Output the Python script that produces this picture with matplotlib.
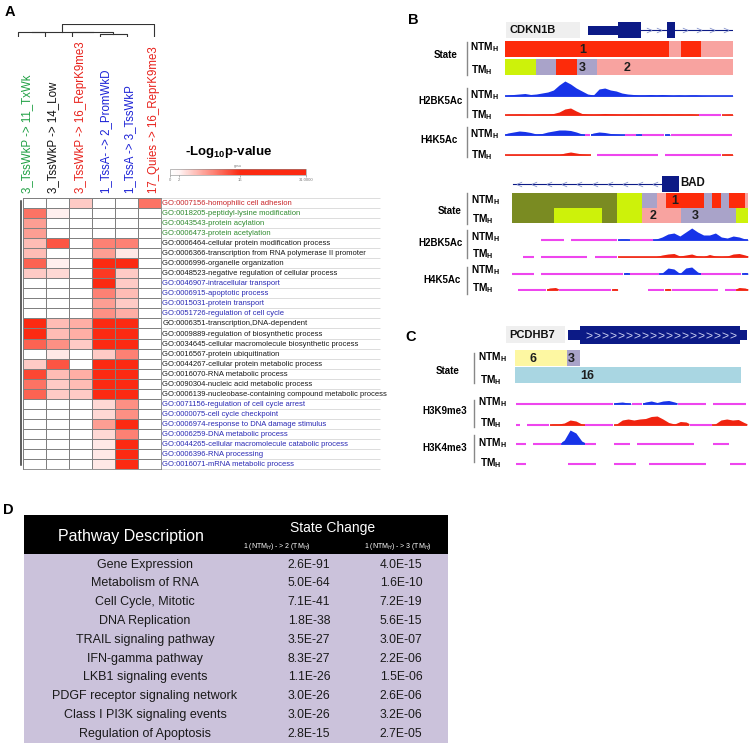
import numpy as np
import matplotlib
matplotlib.use('Agg')
import matplotlib.pyplot as plt
from matplotlib.colors import LinearSegmentedColormap, Normalize
from matplotlib.cm import ScalarMappable
from matplotlib.patches import Rectangle

plt.rcParams['font.family'] = ['Liberation Sans', 'DejaVu Sans']
plt.rcParams['mathtext.fontset'] = 'custom'
plt.rcParams['mathtext.rm'] = 'Liberation Sans'
plt.rcParams['mathtext.bf'] = 'Liberation Sans:bold'
plt.rcParams['mathtext.it'] = 'Liberation Sans:italic'

# ---------------------------------------------------------------- data: panel A
go_terms = [
    "GO:0007156-homophilic cell adhesion",
    "GO:0018205-peptidyl-lysine modification",
    "GO:0043543-protein acylation",
    "GO:0006473-protein acetylation",
    "GO:0006464-cellular protein modification process",
    "GO:0006366-transcription from RNA polymerase II promoter",
    "GO:0006996-organelle organization",
    "GO:0048523-negative regulation of cellular process",
    "GO:0046907-intracellular transport",
    "GO:0006915-apoptotic process",
    "GO:0015031-protein transport",
    "GO:0051726-regulation of cell cycle",
    "GO:0006351-transcription,DNA-dependent",
    "GO:0009889-regulation of biosynthetic process",
    "GO:0034645-cellular macromolecule biosynthetic process",
    "GO:0016567-protein ubiquitination",
    "GO:0044267-cellular protein metabolic process",
    "GO:0016070-RNA metabolic process",
    "GO:0090304-nucleic acid metabolic process",
    "GO:0006139-nucleobase-containing compound metabolic process",
    "GO:0071156-regulation of cell cycle arrest",
    "GO:0000075-cell cycle checkpoint",
    "GO:0006974-response to DNA damage stimulus",
    "GO:0006259-DNA metabolic process",
    "GO:0044265-cellular macromolecule catabolic process",
    "GO:0006396-RNA processing",
    "GO:0016071-mRNA metabolic process",
]
go_groups = ['r', 'g', 'g', 'g', 'k', 'k', 'k', 'k', 'b', 'b', 'b', 'b',
             'k', 'k', 'k', 'k', 'k', 'k', 'k', 'k', 'b', 'b', 'b', 'b', 'b', 'b', 'b']
col_labels = ["3_TssWkP -> 11_TxWk", "3_TssWkP -> 14_Low", "3_TssWkP -> 16_ReprK9me3",
              "1_TssA- -> 2_PromWkD", "1_TssA -> 3_TssWkP", "17_Quies -> 16_ReprK9me3"]
col_groups = ['g', 'k', 'r', 'b', 'b', 'r']
neglog_p = np.array([
    [0, 0, 5, 0, 0, 11],
    [11, 2.5, 0, 0, 0, 0],
    [8, 0, 0, 0, 0, 0],
    [8, 0, 0, 0, 0, 0],
    [6, 13, 0, 10, 10, 0],
    [6, 0, 0, 8, 3, 0],
    [12, 2.5, 0, 17, 17, 0],
    [5, 4, 0, 15, 5, 0],
    [0, 0, 0, 19, 5, 0],
    [0, 0, 0, 10, 6, 0],
    [0, 0, 0, 8, 5, 0],
    [0, 0, 0, 9, 7, 0],
    [20, 6, 7, 25, 25, 0],
    [20, 6, 7, 25, 25, 0],
    [12, 9, 5, 25, 25, 0],
    [0, 3, 0, 5, 10, 0],
    [5, 13, 0, 25, 25, 0],
    [14, 6, 7, 25, 25, 0],
    [11, 5, 6, 25, 25, 0],
    [12, 5, 5, 25, 25, 0],
    [0, 0, 0, 4, 9, 0],
    [0, 0, 0, 4, 9, 0],
    [0, 0, 0, 8, 18, 0],
    [0, 0, 0, 4, 10, 0],
    [0, 0, 0, 3, 19, 0],
    [0, 0, 0, 3, 19, 0],
    [0, 0, 0, 3, 19, 0],
])
cbar_ticks = [0, 2, 16, 31]
cbar_ticklabels = ['0', '2', '16', '31.0000']
# column dendrogram merges: (left node, right node, height); leaves 0..5
col_linkage = [(0, 1, 0.35), (3, 4, 0.22), (2, 7, 0.36), (6, 8, 0.4), (9, 5, 1.0)]

# ---------------------------------------------------------------- data: panels B, C
state_colors = {1: '#fd2b0a', 2: '#f8a3a0', 3: '#a9a3c9', 6: '#fdf7a2',
                11: '#cdf20a', 10: '#7a8b22', 16: '#a9d6e2'}

cdkn1b_ntm_breaks = [0, 72, 77, 86, 100]
cdkn1b_ntm_states = [1, 2, 1, 2]
cdkn1b_tm_breaks = [0, 13.5, 22.5, 31.5, 40.5, 100]
cdkn1b_tm_states = [11, 3, 1, 3, 2]
cdkn1b_state_text = [(0, 34, '1'), (1, 34, '3'), (1, 53.5, '2')]

bad_ntm_breaks = [0, 44.5, 55.1, 61.4, 65.3, 81.4, 84.7, 88.6, 91.9, 98.7, 100]
bad_ntm_states = [10, 11, 3, 2, 1, 3, 1, 3, 1, 2]
bad_tm_breaks = [0, 17.8, 38.1, 44.5, 55.1, 71.6, 94.9, 100]
bad_tm_states = [10, 11, 10, 11, 2, 3, 11]
bad_state_text = [(0, 69, '1'), (1, 59.7, '2'), (1, 77.5, '3')]

pcdhb7_ntm_breaks = [0, 22.9, 28.6]
pcdhb7_ntm_states = [6, 3]
pcdhb7_tm_breaks = [0, 99.6]
pcdhb7_tm_states = [16]
pcdhb7_state_text = [(0, 7.9, '6'), (0, 24.7, '3'), (1, 31.7, '16')]

# signal tracks: 40 bins each; mask: d = data, m = no-signal baseline, ' ' = gap
cdkn1b_h2b_ntm = [1, 1.5, 2, 2.5, 1.5, 2, 3, 4, 6, 11, 15, 12, 8, 5, 2, 1, 7, 8, 6, 5,
                  3, 2, 1.5, 1, 1, 1.5, 1, 1.5, 1, 0.5, 1, 0.5, 1, 1, 0.5, 0.3, 0.3, 0.3, 0.3, 0.3]
cdkn1b_h2b_ntm_mask = 'd' * 40
cdkn1b_h2b_tm = [0.8, 0.8, 1, 0.8, 0.6, 0.8, 1, 1, 1.5, 3, 6, 7, 4, 1.5, 1, 0.8, 1, 1.5, 1.2, 1,
                 0.8, 1, 0.8, 1, 0.8, 1, 0.8, 1, 1, 0.8, 1, 0.8, 1, 0.6, 0, 0, 0, 0, 0.5, 0.8]
cdkn1b_h2b_tm_mask = 'd' * 34 + 'mmmm' + 'dd'
cdkn1b_h4_ntm = [2, 3, 4, 3.5, 2.5, 1, 1.5, 3, 4, 5, 5, 4.5, 3, 1, 0, 2, 3, 2.5, 1.5, 1,
                 0.5, 0, 0, 1, 0, 0, 0, 0, 1, 0, 0, 0, 0, 0, 0, 0, 0, 0, 0, 0]
cdkn1b_h4_ntm_mask = 'd' * 14 + 'm' + 'd' * 6 + 'mm' + 'd' + 'mmmm' + 'd' + 'm' * 11
cdkn1b_h4_tm = [0.5] * 10 + [2, 3, 2, 1, 0.5] + [0] * 23 + [0.8, 0.8]
cdkn1b_h4_tm_mask = 'd' * 15 + ' ' + 'm' * 11 + ' ' + 'm' * 10 + 'dd'

bad_h2b_ntm = [0] * 18 + [1, 1] + [0] * 4 + [1, 3, 6, 7, 4, 8, 12, 8, 5, 5, 7, 3, 2, 4, 3, 1]
bad_h2b_ntm_mask = ' ' * 5 + 'm' * 4 + ' ' + 'm' * 8 + 'dd' + 'mmmm' + 'd' * 16
bad_h2b_tm = [0] * 18 + [0.5] * 7 + [2, 3, 3.5, 1, 2, 3, 1, 0.5, 2.5, 1, 0.5, 1, 3, 3.5, 2]
bad_h2b_tm_mask = '  ' + 'mm' + ' ' + 'm' * 8 + ' ' + 'm' * 4 + 'd' * 22
bad_h4_ntm = [0] * 19 + [1.5] + [0] * 5 + [1, 6, 5, 0.5, 6, 7, 2] + [0] * 7 + [1.5]
bad_h4_ntm_mask = 'mmmm' + ' ' + 'm' * 14 + 'd' + 'm' * 5 + 'd' * 7 + 'm' * 7 + 'd'
bad_h4_tm = [0] * 6 + [2, 2.5] + [0] * 9 + [1.5] + [0] * 8 + [1.5] + [0] * 11 + [2.5, 2]
bad_h4_tm_mask = ' ' + 'm' * 5 + 'dd' + 'm' * 9 + 'd' + ' ' * 5 + 'mmm' + 'd' + 'm' * 8 + ' ' + 'mm' + 'dd'

pcdhb7_k9_ntm = [0] * 17 + [1.5, 2, 1] + [0, 0] + [2, 3, 1.5, 3, 3.5, 2] + [0] * 12
pcdhb7_k9_ntm_mask = 'm' * 17 + 'ddd' + 'mm' + 'd' * 6 + 'm' * 5 + ' ' + 'm' * 6
pcdhb7_k9_tm = [0] * 6 + [1, 1, 2, 5, 4, 1] + [0] * 5 + \
               [1, 5, 6, 5, 6, 6.5, 8.5, 9, 6, 2.5, 1, 3.5, 3] + [0] * 4 + [1, 5, 6, 5, 5.5, 2.5]
pcdhb7_k9_tm_mask = 'm' + ' ' + 'mmmm' + 'd' * 6 + 'm' * 5 + 'd' * 13 + 'mmmm' + 'd' * 6
pcdhb7_k4_ntm = [0] * 8 + [4, 14, 11, 3] + [0] * 28
pcdhb7_k4_ntm_mask = 'mm' + ' ' + 'm' * 5 + 'dddd' + 'mm' + '   ' + 'mmm' + ' ' + 'm' * 10 + '   ' + 'mmm' + '   '
pcdhb7_k4_tm = [0] * 40
pcdhb7_k4_tm_mask = 'mm' + ' ' * 7 + 'm' * 5 + '   ' + 'mmmm' + '  ' + 'm' * 10 + '    ' + 'mmm'

# gene models (0-100 along each locus): (start, end, kind)
cdkn1b_exons = [(36.4, 49.6, 'utr'), (49.6, 59.6, 'cds'), (71.0, 74.6, 'cds')]
cdkn1b_intron = (59.6, 100)
cdkn1b_chevrons = [63, 67.5, 79, 85, 91, 97]
bad_exons = [(63.6, 70.8, 'cds')]
bad_intron = (0.4, 63.6)
bad_chevrons = [3, 9.4, 15.8, 22.2, 28.6, 35, 41.4, 47.8, 54.2, 60.6]
pcdhb7_exons = [(25.9, 30.9, 'utr'), (30.9, 96.7, 'cds'), (96.7, 99.6, 'utr')]
pcdhb7_chevrons = list(np.arange(34.5, 94, 3.3))

# ---------------------------------------------------------------- data: panel D
pathways = ["Gene Expression", "Metabolism of RNA", "Cell Cycle, Mitotic", "DNA Replication",
            "TRAIL signaling pathway", "IFN-gamma pathway", "LKB1 signaling events",
            "PDGF receptor signaling network", "Class I PI3K signaling events",
            "Regulation of Apoptosis"]
p_1to2 = ["2.6E-91", "5.0E-64", "7.1E-41", "1.8E-38", "3.5E-27", "8.3E-27", "1.1E-26",
          "3.0E-26", "3.0E-26", "2.8E-15"]
p_1to3 = ["4.0E-15", "1.6E-10", "7.2E-19", "5.6E-15", "3.0E-07", "2.2E-06", "1.5E-06",
          "2.6E-06", "3.2E-06", "2.7E-05"]

# ---------------------------------------------------------------- figure
W, H = 755, 748
fig = plt.figure(figsize=(W / 100, H / 100), dpi=100)


def box(x0, y0, x1, y1):
    return [x0 / W, 1 - y1 / H, (x1 - x0) / W, (y1 - y0) / H]


def ftext(x, y, s, **kw):
    return fig.text(x / W, 1 - y / H, s, **kw)


text_col = {'r': '#c8262a', 'g': '#2e8a2e', 'k': '#1a1a1a', 'b': '#2a2ab4'}
head_col = {'r': '#e8201a', 'g': '#1fa043', 'k': '#111111', 'b': '#1c22d6'}

# panel letters
for (x, y, s) in [(10, 12, 'A'), (413, 20, 'B'), (411, 337, 'C'), (8, 510, 'D')]:
    ftext(x, y, s, fontsize=10.5, fontweight='bold', ha='center', va='center')

# ---- heatmap
cmap = LinearSegmentedColormap.from_list(
    'wr', [(0, '#ffffff'), (2 / 31, '#fff5f5'), (16 / 31, '#fb2a12'), (1, '#fb2a12')])
norm = Normalize(0, 31)
axh = fig.add_axes(box(23, 198, 161, 469))
nr, nc = neglog_p.shape
axh.pcolormesh(np.arange(nc + 1), np.arange(nr + 1), neglog_p, cmap=cmap, norm=norm,
               edgecolors='#808080', linewidth=0.6)
axh.set_xlim(0, nc)
axh.set_ylim(nr, 0)
axh.set_xticks([])
axh.set_yticks([])
for s in axh.spines.values():
    s.set_color('#808080')
    s.set_linewidth(0.6)
ext = (380 - 161) / 23.0
axh.hlines(np.arange(nr + 1), nc, nc + ext, colors='#cfcfcf', lw=0.5, clip_on=False)
for i, (term, g) in enumerate(zip(go_terms, go_groups)):
    axh.text(nc + 0.05, i + 0.55, term, fontsize=5.5, color=text_col[g], ha='left',
             va='center', clip_on=False)
axh.plot([-0.09, -0.09], [0.3, 26.6], color='#333333', lw=1.1, clip_on=False)

# ---- column labels
col_x = [27, 53, 81, 106, 130, 154]
for x, lab, g in zip(col_x, col_labels, col_groups):
    ftext(x, 193, lab, rotation=90, ha='center', va='bottom', fontsize=8.3, color=head_col[g])

# ---- column dendrogram
axd = fig.add_axes(box(4.4, 24, 167.6, 37))
pos = {i: float(i) for i in range(nc)}
hgt = {i: 0.0 for i in range(nc)}
for k, (a, b, h) in enumerate(col_linkage):
    node = nc + k
    axd.plot([pos[a], pos[a], pos[b], pos[b]], [hgt[a], h, h, hgt[b]], color='#333333', lw=0.8)
    pos[node] = (pos[a] + pos[b]) / 2
    hgt[node] = h
axd.set_xlim(-0.5, nc - 0.5)
axd.set_ylim(0, 1)
axd.axis('off')

# ---- colorbar
ftext(229, 152, r'-Log$_{\mathbf{10}}$p-value', fontsize=9.5, fontweight='bold', ha='center', va='center')
cax = fig.add_axes(box(170, 169, 306, 175))
cb = fig.colorbar(ScalarMappable(norm=norm, cmap=cmap), cax=cax, orientation='horizontal', ticks=cbar_ticks)
cb.ax.set_xticklabels(cbar_ticklabels, fontsize=3, color='#555555')
cb.ax.tick_params(length=1.5, width=0.4, pad=0.5, colors='#777777')
cb.outline.set_linewidth(0.4)
cb.outline.set_edgecolor('#888888')
ftext(238, 166, 'gpsu', fontsize=2.6, color='#777777', ha='center', va='center')

# ---------------------------------------------------------------- panels B, C helpers
NAVY = '#0c1a86'
BLUE = '#1733e8'
RED = '#f0230f'
MAG = '#ee46ee'


def sub_label(x, y, name):
    ftext(x, y, r'$\mathbf{%s}_{\mathbf{H}}$' % name, fontsize=7.3, ha='left', va='center')


def side_label(xr, y, s):
    ftext(xr, y, s, fontsize=7, fontweight='bold', ha='right', va='center')


def vline(x, y0, y1):
    fig.add_artist(plt.Line2D([x / W, x / W], [1 - y0 / H, 1 - y1 / H], color='#888888', lw=1.0))


def state_track(pxbox, rows, texts):
    ax = fig.add_axes(box(*pxbox))
    for r, (breaks, states) in enumerate(rows):
        for b0, b1, s in zip(breaks[:-1], breaks[1:], states):
            ax.broken_barh([(b0, b1 - b0)], (r + 0.03, 0.94), facecolor=state_colors[s], edgecolor='none')
    for r, x, t in texts:
        ax.text(x, r + 0.55, t, fontsize=9, fontweight='bold', color='#1e1e1e', ha='center', va='center')
    ax.set_xlim(0, 100)
    ax.set_ylim(len(rows), 0)
    ax.axis('off')
    ax.patch.set_alpha(0)


def signal_track(x0, x1, base, heights, mask, color, ymax=18):
    ax = fig.add_axes(box(x0, base - ymax, x1, base + 1.5))
    n = len(heights)
    i = 0
    while i < n:
        c = mask[i]
        j = i
        while j < n and mask[j] == c:
            j += 1
        if c == 'd':
            hs = list(heights[i:j])
            xs = [i] + [k + 0.5 for k in range(i, j)] + [j]
            ys = [0.5 * hs[0]] + hs + [0.5 * hs[-1]]
            ax.fill_between(xs, 0, ys, color=color, lw=0)
            ax.plot([i, j], [0, 0], color=color, lw=1.2, solid_capstyle='butt')
        elif c == 'm':
            ax.plot([i + 0.1, j - 0.1], [0, 0], color=MAG, lw=1.5, solid_capstyle='butt')
        i = j
    ax.set_xlim(0, n)
    ax.set_ylim(-1.5, ymax)
    ax.axis('off')
    ax.patch.set_alpha(0)


def gene_model(pxbox, exons, intron, chevrons, chev, label=None, label_end=None,
               chev_color='#7f8cc8', chev_size=4.0):
    ax = fig.add_axes(box(*pxbox))
    if label is not None:
        ax.add_patch(Rectangle((0.4, -0.85), label_end - 0.4, 1.7, facecolor='#efefef', edgecolor='none'))
        ax.text(1.8, 0, label, fontsize=8, fontweight='bold', ha='left', va='center', color='#111111')
    if intron is not None:
        ax.plot(intron, [0, 0], color=NAVY, lw=0.8)
    for s, e, kind in exons:
        hh = 0.5 if kind == 'utr' else 0.9
        ax.add_patch(Rectangle((s, -hh), e - s, 2 * hh, facecolor=NAVY, edgecolor='none'))
    ax.plot(chevrons, [0.0] * len(chevrons), linestyle='none', marker=chev,
            markersize=chev_size, color=chev_color, markeredgewidth=0)
    ax.set_xlim(0, 100)
    ax.set_ylim(-1, 1)
    ax.axis('off')
    ax.patch.set_alpha(0)
    return ax


# ---- CDKN1B
gene_model((505, 21, 733, 39), cdkn1b_exons, cdkn1b_intron, cdkn1b_chevrons, r'$>$',
           label='CDKN1B', label_end=33)
state_track((505, 40, 733, 76), [(cdkn1b_ntm_breaks, cdkn1b_ntm_states),
                                 (cdkn1b_tm_breaks, cdkn1b_tm_states)], cdkn1b_state_text)
side_label(458, 55, 'State'); vline(467, 42, 75)
sub_label(470, 47, 'NTM'); sub_label(471, 70, 'TM')
signal_track(505, 733, 96, cdkn1b_h2b_ntm, cdkn1b_h2b_ntm_mask, BLUE)
signal_track(505, 733, 115, cdkn1b_h2b_tm, cdkn1b_h2b_tm_mask, RED)
signal_track(505, 733, 135, cdkn1b_h4_ntm, cdkn1b_h4_ntm_mask, BLUE)
signal_track(505, 733, 155, cdkn1b_h4_tm, cdkn1b_h4_tm_mask, RED)
side_label(463, 101, 'H2BK5Ac'); vline(467, 88, 117)
sub_label(470, 95, 'NTM'); sub_label(471, 115, 'TM')
side_label(458, 140, 'H4K5Ac'); vline(467, 127, 157)
sub_label(470, 134, 'NTM'); sub_label(471, 155, 'TM')

# ---- BAD
axb = gene_model((512, 175, 748, 193), bad_exons, bad_intron, bad_chevrons, r'$<$')
axb.text(71.2, 0.1, 'BAD', fontsize=8.3, fontweight='bold', ha='left', va='center', color='#111111')
state_track((512, 193, 748, 223), [(bad_ntm_breaks, bad_ntm_states),
                                   (bad_tm_breaks, bad_tm_states)], bad_state_text)
side_label(462, 211, 'State'); vline(467, 193, 224)
sub_label(471, 200, 'NTM'); sub_label(472, 219, 'TM')
signal_track(511, 748, 240, bad_h2b_ntm, bad_h2b_ntm_mask, BLUE)
signal_track(511, 748, 257, bad_h2b_tm, bad_h2b_tm_mask, RED)
signal_track(511, 748, 274, bad_h4_ntm, bad_h4_ntm_mask, BLUE)
signal_track(511, 748, 290, bad_h4_tm, bad_h4_tm_mask, RED)
side_label(463, 243, 'H2BK5Ac'); vline(467, 230, 258)
sub_label(471, 237, 'NTM'); sub_label(472, 254, 'TM')
side_label(461, 280, 'H4K5Ac'); vline(467, 267, 294)
sub_label(471, 270, 'NTM'); sub_label(472, 288, 'TM')

# ---- PCDHB7
gene_model((505, 325, 748, 345), pcdhb7_exons, None, pcdhb7_chevrons, r'$>$',
           label='PCDHB7', label_end=24.7, chev_color='#c8cdf0', chev_size=4.5)
state_track((515, 350, 742, 383), [(pcdhb7_ntm_breaks, pcdhb7_ntm_states),
                                   (pcdhb7_tm_breaks, pcdhb7_tm_states)], pcdhb7_state_text)
side_label(460, 371, 'State'); vline(474, 353, 383)
sub_label(478, 357, 'NTM'); sub_label(480, 380, 'TM')
signal_track(515, 747, 404, pcdhb7_k9_ntm, pcdhb7_k9_ntm_mask, BLUE)
signal_track(515, 747, 425, pcdhb7_k9_tm, pcdhb7_k9_tm_mask, RED)
signal_track(515, 747, 444, pcdhb7_k4_ntm, pcdhb7_k4_ntm_mask, BLUE)
signal_track(515, 747, 464, pcdhb7_k4_tm, pcdhb7_k4_tm_mask, RED)
side_label(467, 411, 'H3K9me3'); vline(474, 400, 427)
sub_label(478, 402, 'NTM'); sub_label(480, 423, 'TM')
side_label(467, 448, 'H3K4me3'); vline(474, 435, 462)
sub_label(478, 443, 'NTM'); sub_label(480, 463, 'TM')

# ---------------------------------------------------------------- panel D table
axt = fig.add_axes(box(24, 515, 448, 743))
axt.set_xlim(24, 448)
axt.set_ylim(743, 515)
axt.axis('off')
axt.add_patch(Rectangle((24, 515), 424, 39, facecolor='black', edgecolor='none'))
axt.add_patch(Rectangle((24, 554), 424, 189, facecolor='#cbc2db', edgecolor='none'))
axt.text(131, 537, 'Pathway Description', color='white', fontsize=11.5, ha='center', va='center')
axt.text(333, 528, 'State Change', color='white', fontsize=10, ha='center', va='center')
axt.text(277, 547, r'1 (NTM$_H$) - > 2 (TM$_H$)', color='white', fontsize=5, ha='center', va='center')
axt.text(398, 547, r'1 (NTM$_H$) - > 3 (TM$_H$)', color='white', fontsize=5, ha='center', va='center')
row_h = 18.8
for i, (pw, a, b) in enumerate(zip(pathways, p_1to2, p_1to3)):
    y = 564.6 + row_h * i
    axt.text(145, y, pw, fontsize=9, ha='center', va='center', color='#1a1a1a')
    axt.text(309, y, a, fontsize=8.7, ha='center', va='center', color='#1a1a1a')
    axt.text(401, y, b, fontsize=8.7, ha='center', va='center', color='#1a1a1a')

fig.savefig('out.png', dpi=100)
